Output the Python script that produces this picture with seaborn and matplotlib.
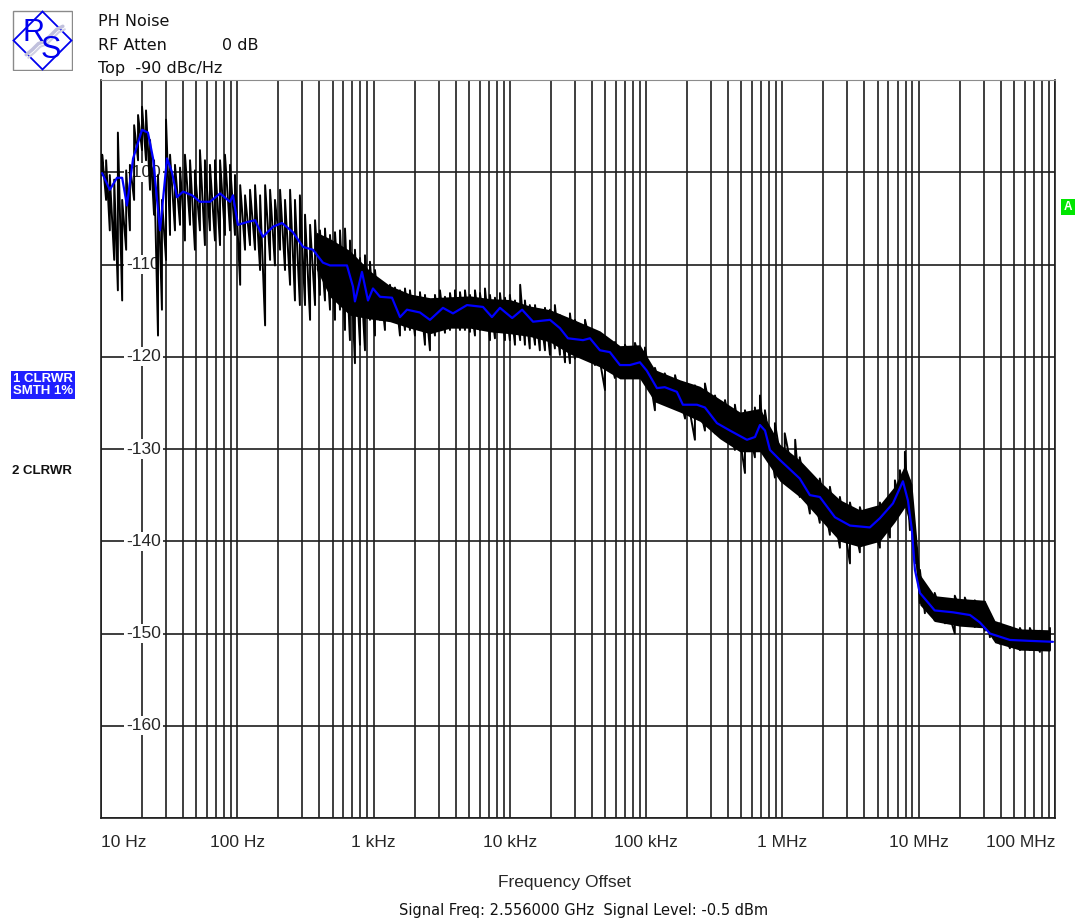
import numpy as np
import pandas as pd
import seaborn as sns
import matplotlib.pyplot as plt
from matplotlib.ticker import LogLocator, NullFormatter
from matplotlib.patches import Rectangle, Polygon

# trace 1 (CLRWR, SMTH 1%) : offset frequency in Hz, level in dBc/Hz
smooth_freq = [10.2, 11.6, 13.1, 14.3, 15.5, 17.2, 20.0, 22.1, 24.1, 27.1,
               30.5, 33.2, 36.1, 40.0, 46.6, 53.2, 63.1, 74.7, 88.4, 93.0,
               101, 118, 135, 154, 183, 213, 256, 304, 359, 425,
               479, 567, 638, 706, 730, 822, 910, 990, 1115, 1365,
               1563, 1759, 2188, 2592, 3228, 3826, 4845, 6350, 7390, 8460,
               10.4e3, 12.3e3, 14.8e3, 19.7e3, 23.3e3, 26.7e3, 34.4e3, 38.7e3, 45.8e3, 54.2e3,
               64.2e3, 76.0e3, 90.0e3, 101e3, 120e3, 137e3, 168e3, 186e3, 236e3, 270e3,
               331e3, 412e3, 549e3, 629e3, 684e3, 745e3, 810e3, 0.96e6, 1.34e6, 1.59e6,
               1.88e6, 2.43e6, 3.13e6, 4.38e6, 5.19e6, 6.47e6, 7.66e6, 8.34e6, 8.91e6, 9.38e6,
               10.2e6, 13.1e6, 17.8e6, 23.8e6, 28.1e6, 33.3e6, 46.7e6, 65.5e6, 96.6e6]
smooth_level = [-100.1, -101.9, -100.6, -100.6, -103.6, -98.5, -95.4, -95.7, -98.5, -106.3,
                -98.5, -100.0, -102.7, -102.1, -102.5, -103.2, -103.2, -102.3, -103.2, -102.5,
                -105.7, -105.4, -105.2, -107.0, -105.9, -105.5, -106.5, -108.1, -108.4, -109.8,
                -110.1, -110.1, -110.1, -112.4, -114.0, -110.8, -113.9, -112.6, -113.5, -113.6,
                -115.7, -114.9, -115.2, -116.0, -114.7, -115.3, -114.4, -114.6, -115.7, -114.7,
                -115.8, -114.9, -116.2, -116.0, -116.9, -118.0, -118.2, -118.0, -119.3, -119.5,
                -120.9, -120.9, -120.6, -121.5, -123.4, -123.3, -123.8, -125.2, -125.2, -125.5,
                -127.2, -128.0, -129.0, -128.7, -127.4, -128.0, -130.1, -131.2, -133.2, -135.0,
                -135.2, -137.4, -138.3, -138.5, -137.5, -135.9, -133.5, -135.6, -138.8, -143.1,
                -145.6, -147.5, -147.7, -148.0, -148.8, -150.0, -150.7, -150.8, -150.9]

# trace 2 (CLRWR, raw): spike tops and bottoms
raw_freq = [10.2, 10.9, 11.6, 12.5, 13.3, 14.3, 15.3, 16.3, 17.5, 18.7, 20.0, 21.4, 22.9, 24.5, 26.2, 28.0, 30.0, 32.1,
            34.9, 38.0, 41.3, 45.0, 48.9, 53.2, 57.9, 63.0, 68.6, 74.7, 81.2, 88.4, 96.2,
            105, 114, 124, 135, 147, 160, 174, 189, 206, 224, 244, 265, 288, 314, 342, 372, 404, 440, 479, 521,
            567, 617, 671, 730, 795, 865, 941,
            1024, 1114, 1212, 1319, 1435, 1562, 1700, 1849, 2012, 2190, 2383, 2593, 2821, 3070, 3341, 3636,
            3956, 4305, 4684, 5097, 5546, 6035, 6567, 7145, 7775, 8460, 9205,
            10.0e3, 10.9e3, 11.9e3, 12.9e3, 14.0e3, 15.3e3, 16.6e3, 18.1e3, 19.7e3, 21.4e3, 23.3e3, 25.4e3, 27.6e3, 30.0e3,
            35.6e3, 42.1e3, 49.9e3, 59.0e3, 69.9e3, 82.8e3, 98.0e3, 116e3, 137e3, 163e3, 193e3, 228e3, 270e3,
            320e3, 379e3, 448e3, 531e3, 628e3,
            684e3, 744e3, 881e3, 1.04e6, 1.24e6, 1.34e6, 1.59e6, 1.88e6, 2.23e6, 2.64e6, 3.13e6, 3.70e6,
            4.38e6, 5.19e6, 6.15e6, 6.69e6, 7.28e6, 7.92e6, 8.62e6, 9.38e6, 10.2e6, 11.1e6, 13.1e6, 15.6e6,
            18.4e6, 21.8e6, 25.8e6, 30.6e6, 33.3e6, 39.4e6, 46.7e6, 55.3e6, 65.4e6, 77.5e6, 91.8e6]
raw_peak = [-98.1, -98.7, -100.3, -100.8, -95.7, -103.0, -99.8, -99.2, -94.9, -93.8, -92.9, -93.3, -96.5, -98.7, -100.3, -103.0, -94.3, -98.1,
            -99.2, -99.5, -98.1, -98.7, -99.8, -97.6, -98.7, -99.2, -98.7, -98.7, -98.1, -99.2, -100.3,
            -101.4, -102.5, -101.9, -101.4, -102.5, -101.4, -101.9, -103.0, -101.9, -103.0, -101.9, -103.0, -102.5, -104.6, -105.7, -105.2, -106.3, -106.1, -106.8, -106.5,
            -106.3, -106.1, -107.4, -108.4, -109.3, -109.0, -109.7,
            -110.6, -111.7, -112.2, -112.2, -112.5, -112.8, -112.6, -112.8, -113.9, -113.0, -113.3, -113.9, -113.3, -112.8, -113.5, -113.1,
            -112.8, -113.0, -112.8, -113.3, -112.8, -113.1, -112.6, -113.3, -113.6, -113.1, -113.6,
            -113.3, -113.9, -112.2, -113.9, -114.4, -114.4, -114.9, -114.7, -114.9, -114.4, -115.5, -116.0, -115.3, -116.0,
            -116.0, -117.4, -117.9, -118.4, -118.7, -118.5, -119.0, -121.2, -121.8, -122.0, -123.1, -123.1, -122.9,
            -124.2, -124.7, -125.2, -125.8, -125.5,
            -124.2, -125.8, -127.2, -128.3, -129.0, -130.9, -132.6, -133.2, -134.1, -135.2, -135.8, -136.3,
            -137.0, -135.8, -135.0, -133.4, -132.3, -130.3, -133.4, -139.1, -143.1, -145.0, -145.6, -146.4,
            -145.9, -146.1, -146.4, -146.6, -147.8, -148.9, -149.3, -149.4, -149.4, -149.7, -149.4]
raw_dip = [-100.3, -103.0, -106.3, -109.5, -112.8, -113.9, -108.4, -106.3, -103.0, -98.7, -97.6, -98.7, -101.9, -104.6, -117.7, -114.9, -109.5, -106.8,
           -106.3, -105.7, -107.4, -105.7, -108.4, -106.3, -107.9, -106.3, -107.4, -107.9, -106.8, -106.3, -106.8,
           -112.2, -108.4, -107.9, -108.4, -110.6, -116.6, -109.5, -110.1, -108.4, -110.6, -112.2, -113.9, -114.4, -114.4, -116.0, -114.4, -113.3, -113.9, -114.9, -116.0,
           -114.9, -117.1, -118.2, -120.7, -118.7, -119.3, -116.0,
           -117.7, -116.0, -117.1, -115.5, -116.0, -117.7, -117.1, -117.1, -117.7, -117.1, -118.7, -119.3, -117.7, -117.1, -117.4, -117.1,
           -116.6, -117.1, -117.1, -117.3, -117.7, -117.1, -117.1, -118.2, -118.0, -117.1, -118.2,
           -118.2, -118.7, -118.2, -118.7, -119.1, -118.7, -119.3, -119.3, -119.8, -119.1, -119.8, -120.6, -120.7, -120.2,
           -119.8, -120.9, -123.6, -122.3, -121.5, -121.7, -122.2, -125.8, -124.7, -125.0, -126.7, -129.0, -128.0,
           -128.3, -129.0, -130.1, -132.6, -130.9,
           -130.1, -130.5, -133.1, -133.7, -134.1, -135.2, -137.0, -138.0, -139.3, -140.7, -142.4, -141.2,
           -140.1, -140.7, -139.6, -137.7, -136.3, -135.9, -138.8, -142.4, -146.7, -147.8, -148.6, -148.9,
           -150.0, -148.9, -149.3, -149.7, -150.4, -151.1, -151.6, -151.8, -151.8, -152.0, -151.8]

# solid core of trace 2
band_freq = [380, 479, 671, 941, 1319, 1849, 2593,
             3636, 5097, 7145, 10.0e3, 14.0e3, 19.7e3, 27.6e3, 45.8e3, 64.2e3, 90.0e3,
             116e3, 177e3, 248e3, 348e3, 488e3, 684e3, 959e3, 1.34e6, 1.88e6, 2.64e6,
             3.70e6, 5.19e6, 6.69e6, 7.92e6, 8.91e6, 10.2e6, 13.1e6, 20.0e6, 30.6e6, 36.2e6,
             55.3e6, 91.8e6]
band_top = [-106.5, -107.2, -108.5, -110.7, -112.3, -113.2, -113.6,
            -113.5, -113.4, -113.7, -113.8, -114.5, -114.9, -115.8, -117.2, -118.8, -118.7,
            -121.4, -122.5, -123.2, -124.6, -126.0, -125.6, -129.5, -131.2, -133.5, -135.5,
            -136.6, -136.0, -134.0, -131.7, -133.8, -143.6, -145.9, -146.2, -146.4, -148.6,
            -149.5, -149.6]
band_bottom = [-110.5, -113.5, -115.5, -115.9, -116.2, -116.9, -117.5,
               -116.9, -116.9, -117.3, -117.5, -117.8, -118.4, -119.7, -121.1, -122.4, -122.4,
               -124.9, -126.0, -127.0, -128.9, -130.3, -130.3, -133.5, -135.2, -137.6, -140.0,
               -140.6, -140.0, -137.9, -136.3, -139.0, -146.9, -148.7, -149.2, -149.4, -151.0,
               -151.8, -151.9]

x_ticks = [1e1, 1e2, 1e3, 1e4, 1e5, 1e6, 1e7, 1e8]
x_labels = ["10 Hz", "100 Hz", "1 kHz", "10 kHz", "100 kHz", "1 MHz", "10 MHz", "100 MHz"]
y_ticks = [-160, -150, -140, -130, -120, -110, -100]

sns.set_style("white")
plt.rcParams['font.family'] = ['Liberation Sans', 'DejaVu Sans']

W, H = 1077, 923
fig = plt.figure(figsize=(W / 100, H / 100), dpi=100)
ax = fig.add_axes([101 / W, 105 / H, 954 / W, 738 / H])
ax.set_xscale('log')
ax.set_xlim(10, 1e8)
ax.set_ylim(-170, -90)

# grid like the analyzer screen
ax.xaxis.set_minor_locator(LogLocator(base=10, subs=np.arange(2, 10)))
ax.xaxis.set_minor_formatter(NullFormatter())
ax.set_yticks(list(range(-170, -89, 10)))
ax.set_yticklabels([])
ax.grid(True, which='both', axis='x', color='#1e1e1e', lw=1.2, zorder=0)
ax.grid(True, which='major', axis='y', color='#1e1e1e', lw=1.2, zorder=0)
ax.set_axisbelow(True)
ax.tick_params(which='both', length=0)
ax.set_xticks(x_ticks)
ax.set_xticklabels(x_labels, fontsize=12.5)
ax.tick_params(axis='x', pad=12)
lbls = ax.get_xticklabels()
lbls[0].set_ha('left')
lbls[-1].set_ha('right')
for side in ['left', 'bottom', 'right']:
    ax.spines[side].set_color('#1e1e1e')
    ax.spines[side].set_linewidth(1.2)
ax.spines['top'].set_color('#8c8c8c')
ax.spines['top'].set_linewidth(0.8)

for v in y_ticks:
    ax.text(20.4, v, str(v), ha='center', va='center', fontsize=12.5, zorder=3,
            bbox=dict(fc='white', ec='none', pad=1.5))

# raw trace as spikes
zz = pd.DataFrame({"freq": np.repeat(raw_freq, 2),
                   "level": np.column_stack([raw_dip, raw_peak]).ravel()})
ax.fill_between(band_freq, band_bottom, band_top, color='black', lw=0, zorder=4)
sns.lineplot(data=zz, x="freq", y="level", sort=False, estimator=None,
             color='black', lw=1.4, ax=ax, zorder=5)

sm = pd.DataFrame({"freq": smooth_freq, "level": smooth_level})
sns.lineplot(data=sm, x="freq", y="level", sort=False, estimator=None,
             color='#0000ff', lw=1.6, ax=ax, zorder=6)
ax.set_xlabel("")
ax.set_ylabel("")


def fx(px):
    return px / W


def fy(py):
    return 1 - py / H


# header
hdr = dict(family='DejaVu Sans', fontsize=11.5, va='center', color='#111111')
fig.text(fx(98), fy(22), "PH Noise", **hdr)
fig.text(fx(98), fy(45), "RF Atten", **hdr)
fig.text(fx(222), fy(45), "0 dB", **hdr)
fig.text(fx(98), fy(68), "Top  -90 dBc/Hz", **hdr)

# R&S logo
lg = fig.add_axes([fx(12), fy(71), 61 / W, 61 / H])
lg.set_xlim(0, 60)
lg.set_ylim(60, 0)
lg.axis('off')
lg.add_patch(Rectangle((0.5, 0.5), 59, 59, fill=False, ec='#8a8a8a', lw=1.0))
lg.add_patch(Polygon([(30, 1.5), (58.5, 30), (30, 58.5), (1.5, 30)], closed=True,
                     fill=False, ec='#0000ee', lw=1.3))
lg.plot([14, 20, 26, 32, 38, 44, 50], [44, 39, 33, 31, 25, 19, 16], color='#c0c0dc', lw=2.5)
lg.plot([16, 22, 28, 34, 40, 46, 52], [47, 42, 36, 34, 28, 22, 19], color='#d0d0e4', lw=1.5)
lg.text(21, 23, "R", color='#0000ee', fontsize=22, ha='center', va='center')
lg.text(38, 39, "S", color='#0000ee', fontsize=22, ha='center', va='center')

# trace labels on the left
fig.text(fx(13), fy(385), "1 CLRWR\nSMTH 1%", fontsize=9.5, weight='bold', color='white',
         va='center', ha='left', linespacing=1.05,
         bbox=dict(boxstyle='square,pad=0.12', fc='#1f1fff', ec='none'))
fig.text(fx(12), fy(471), "2 CLRWR", fontsize=9.5, weight='bold', color='#111111',
         va='center', ha='left')

# marker "A" on the right
fig.text(fx(1068), fy(207), "A", fontsize=8.5, weight='bold', color='white',
         ha='center', va='center',
         bbox=dict(boxstyle='square,pad=0.2', fc='#00e600', ec='none'))

fig.text(fx(565), fy(882), "Frequency Offset", fontsize=12.5, ha='center', va='center')
fig.text(fx(584), fy(910), "Signal Freq: 2.556000 GHz  Signal Level: -0.5 dBm",
         family='DejaVu Sans', fontsize=10.5, ha='center', va='center', color='#111111')

fig.savefig("out.png", dpi=100, facecolor='white')
